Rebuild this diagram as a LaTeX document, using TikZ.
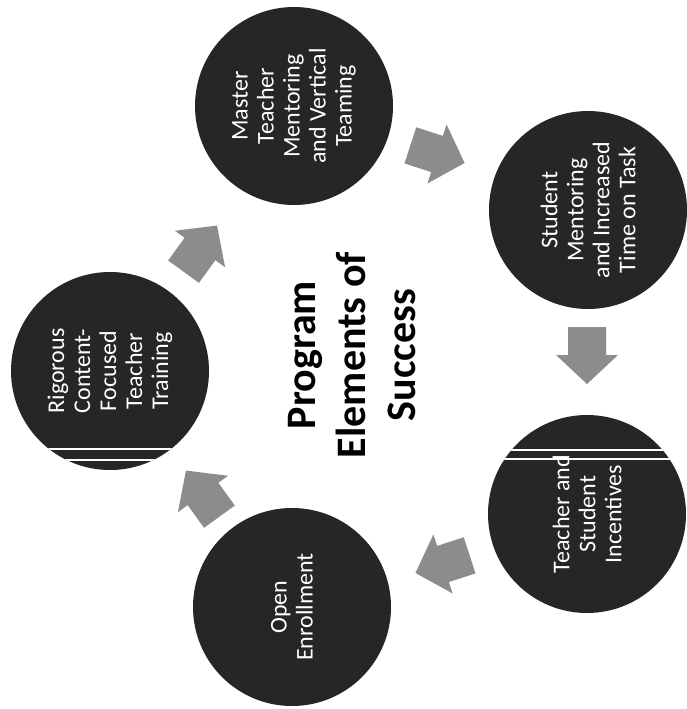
\documentclass[tikz,border=0pt]{standalone}
\usepackage{fontspec}
\setmainfont{Carlito}
\definecolor{circfill}{RGB}{38,38,38}
\definecolor{arrowfill}{RGB}{140,140,140}
\tikzset{
  elem/.style={circle, fill=circfill, minimum size=198pt, inner sep=0pt, rotate=90,
    text=white, align=center, font=\fontsize{24}{26}\selectfont},
  arrowshape/.style={fill=arrowfill},
  scanline/.style={white, line width=1.4pt}
}
\newcommand\cyclearrow[4]{% name, x, y, angle
  \coordinate (#1) at (#2,#3);
  \begin{scope}[shift={(#1)}, rotate=#4]
    \fill[arrowshape] (-28,-19) -- (0,-19) -- (0,-31) -- (29,0) -- (0,31) -- (0,19) -- (-28,19) -- cycle;
  \end{scope}}
\begin{document}
\begin{tikzpicture}[x=1pt, y=-1pt]
\useasboundingbox (0,0) rectangle (686,709);
\fill[white] (0,0) rectangle (686,709);

\node[elem] (master) at (294,106) {Master\\Teacher\\Mentoring\\and Vertical\\Teaming};
\node[elem] (student) at (588,210) {Student\\Mentoring\\and Increased\\Time on Task};
\node[elem] (incent) at (587,514) {Teacher and\\Student\\Incentives};
\node[elem] (open) at (292,607) {Open\\Enrollment};
\node[elem] (rigor) at (110,371) {Rigorous\\Content-\\Focused\\Teacher\\Training};

\begin{scope}
  \clip (incent.center) circle[radius=99pt];
  \draw[scanline] (470,450) -- (700,450);
  \draw[scanline] (470,459) -- (700,459);
\end{scope}
\begin{scope}
  \clip (rigor.center) circle[radius=99pt];
  \draw[scanline] (0,449) -- (230,449);
  \draw[scanline] (0,460) -- (230,460);
\end{scope}

\node[rotate=90, align=center, font=\fontsize{42}{50}\selectfont\bfseries] (title) at (352,355) {Program\\Elements of\\Success};

\cyclearrow{a1}{200}{249}{54}
\cyclearrow{a2}{437}{154}{-18}
\cyclearrow{a3}{587}{355}{-90}
\cyclearrow{a4}{443}{564}{198}
\cyclearrow{a5}{203}{494}{126}
\end{tikzpicture}
\end{document}
